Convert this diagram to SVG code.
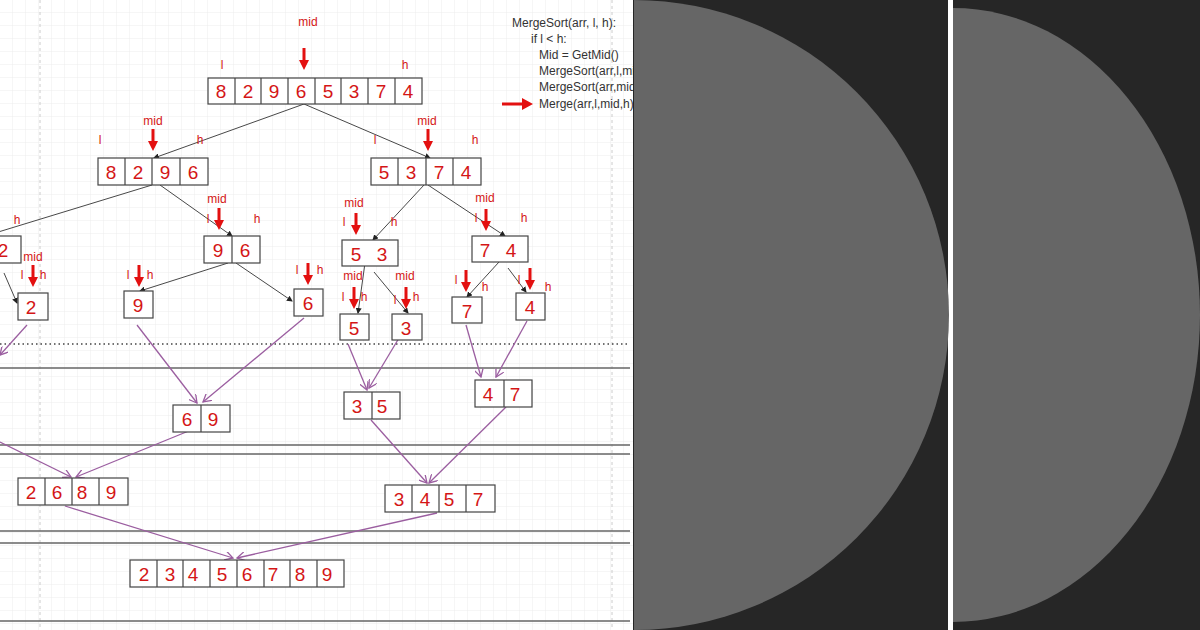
<svg xmlns="http://www.w3.org/2000/svg" width="1200" height="630" viewBox="0 0 1200 630">
<defs>
<pattern id="g" width="13" height="13" patternUnits="userSpaceOnUse"><path d="M13 0V13H0" fill="none" stroke="#ececec" stroke-width="1"/></pattern>
<marker id="ab" markerWidth="6" markerHeight="6" refX="5" refY="3" orient="auto" markerUnits="userSpaceOnUse"><path d="M0,0L6,3L0,6z" fill="#222"/></marker>
<marker id="ap" markerWidth="9" markerHeight="9" refX="8" refY="4.5" orient="auto" markerUnits="userSpaceOnUse"><path d="M0,0L8,4.5L0,9" fill="none" stroke="#9b5ea0" stroke-width="1.3"/></marker>
<path id="ra" d="M-1.5,0V-12H1.5V0H5L0,10L-5,0Z" fill="#e31010"/>
</defs>
<style>
.c{fill:#fff;stroke:#444;stroke-width:1.2}
.d{stroke:#444;stroke-width:1.2}
.n{font-family:"Liberation Sans",Arial,sans-serif;font-size:19px;fill:#d41616;text-anchor:middle}
.s{font-family:"Liberation Sans",Arial,sans-serif;font-size:12px;fill:#d41616;text-anchor:middle}
.k{stroke:#333;stroke-width:0.9;fill:none;marker-end:url(#ab)}
.p{stroke:#9b5ea0;stroke-width:1.3;fill:none;marker-end:url(#ap)}
.sep{stroke:#666;stroke-width:1.5}
.code{font-family:"Liberation Sans",Arial,sans-serif;font-size:12px;fill:#333}
</style>
<rect width="633" height="630" fill="#fff"/>
<rect width="633" height="630" fill="url(#g)"/>
<line x1="40" y1="0" x2="40" y2="630" stroke="#ccc" stroke-dasharray="3,3"/>
<line x1="612" y1="0" x2="612" y2="630" stroke="#ccc" stroke-dasharray="3,3"/>
<g id="separators">
<line x1="0" y1="344" x2="630" y2="344" stroke="#444" stroke-width="1.5" stroke-dasharray="1.5,3"/>
<line class="sep" x1="0" y1="368" x2="630" y2="368"/>
<line class="sep" x1="0" y1="445" x2="630" y2="445"/>
<line class="sep" x1="0" y1="454" x2="630" y2="454"/>
<line class="sep" x1="0" y1="531" x2="630" y2="531"/>
<line class="sep" x1="0" y1="543" x2="630" y2="543"/>
<line class="sep" x1="0" y1="621" x2="630" y2="621"/>
</g>
<g id="code">
<text class="code" x="512" y="27">MergeSort(arr, l, h):</text>
<text class="code" x="531" y="43">if l &lt; h:</text>
<text class="code" x="539" y="59">Mid = GetMid()</text>
<text class="code" x="539" y="75">MergeSort(arr,l,mid)</text>
<text class="code" x="539" y="91">MergeSort(arr,mid+1,h)</text>
<text class="code" x="539" y="108">Merge(arr,l,mid,h)</text>
<path d="M502,102.5H522V98L533,104L522,110V105.5H502Z" fill="#e31010"/>
</g>
<g id="connectors">
<line class="k" x1="304" y1="104" x2="154" y2="158"/>
<line class="k" x1="304" y1="104" x2="430" y2="158"/>
<line class="k" x1="152" y1="185" x2="-5" y2="233"/>
<line class="k" x1="160" y1="185" x2="232" y2="236"/>
<line class="k" x1="4" y1="273" x2="17" y2="303"/>
<line class="k" x1="228" y1="263" x2="140" y2="291"/>
<line class="k" x1="236" y1="263" x2="292" y2="301"/>
<line class="k" x1="424" y1="185" x2="373" y2="240"/>
<line class="k" x1="428" y1="185" x2="505" y2="236"/>
<line class="k" x1="365" y1="263" x2="358" y2="313"/>
<line class="k" x1="374" y1="272" x2="408" y2="313"/>
<line class="k" x1="499" y1="262" x2="467" y2="297"/>
<line class="k" x1="508" y1="268" x2="526" y2="292"/>
<line class="p" x1="27" y1="325" x2="0" y2="355"/>
<line class="p" x1="137" y1="325" x2="197" y2="403"/>
<line class="p" x1="304" y1="318" x2="203" y2="402"/>
<line class="p" x1="348" y1="344" x2="367" y2="390"/>
<line class="p" x1="399" y1="338" x2="369" y2="388"/>
<line class="p" x1="466" y1="325" x2="481" y2="377"/>
<line class="p" x1="527" y1="321" x2="496" y2="377"/>
<line class="p" x1="0" y1="442" x2="71" y2="477"/>
<line class="p" x1="196" y1="428" x2="76" y2="477"/>
<line class="p" x1="371" y1="420" x2="427" y2="483"/>
<line class="p" x1="506" y1="407" x2="429" y2="483"/>
<line class="p" x1="65" y1="506" x2="233" y2="558"/>
<line class="p" x1="437" y1="513" x2="237" y2="558"/>
</g>
<g id="n-top">
<text class="s" x="308" y="26">mid</text><use href="#ra" x="304" y="60"/>
<text class="s" x="222" y="69">l</text><text class="s" x="405" y="69">h</text>
<rect class="c" x="208" y="78" width="214" height="26"/>
<path class="d" d="M235,78v26M261,78v26M288,78v26M315,78v26M341,78v26M368,78v26M395,78v26"/>
<text class="n" x="221" y="98">8</text><text class="n" x="248" y="98">2</text><text class="n" x="274" y="98">9</text><text class="n" x="301" y="98">6</text><text class="n" x="328" y="98">5</text><text class="n" x="354" y="98">3</text><text class="n" x="381" y="98">7</text><text class="n" x="408" y="98">4</text>
</g>
<g id="n-8296">
<text class="s" x="153" y="125">mid</text><use href="#ra" x="153" y="141"/>
<text class="s" x="100" y="144">l</text><text class="s" x="200" y="144">h</text>
<rect class="c" x="98" y="158" width="110" height="27"/>
<path class="d" d="M125,158v27M152,158v27M180,158v27"/>
<text class="n" x="111" y="179">8</text><text class="n" x="138" y="179">2</text><text class="n" x="165" y="179">9</text><text class="n" x="193" y="179">6</text>
</g>
<g id="n-5374">
<text class="s" x="427" y="125">mid</text><use href="#ra" x="428" y="141"/>
<text class="s" x="375" y="144">l</text><text class="s" x="475" y="144">h</text>
<rect class="c" x="371" y="158" width="110" height="27"/>
<path class="d" d="M398,158v27M426,158v27M453,158v27"/>
<text class="n" x="384" y="179">5</text><text class="n" x="411" y="179">3</text><text class="n" x="439" y="179">7</text><text class="n" x="466" y="179">4</text>
</g>
<g id="n-82">
<text class="s" x="17" y="224">h</text>
<rect class="c" x="-10" y="236" width="31" height="27"/>
<text class="n" x="3" y="257">2</text>
</g>
<g id="n-2">
<text class="s" x="33" y="261">mid</text><use href="#ra" x="33" y="277"/>
<text class="s" x="22" y="279">l</text><text class="s" x="43" y="279">h</text>
<rect class="c" x="18" y="293" width="30" height="27"/><text class="n" x="31" y="314">2</text>
</g>
<g id="n-96">
<text class="s" x="217" y="203">mid</text><use href="#ra" x="219" y="220"/>
<text class="s" x="208" y="223">l</text><text class="s" x="257" y="223">h</text>
<rect class="c" x="204" y="236" width="56" height="27"/><path class="d" d="M232,236v27"/>
<text class="n" x="218" y="257">9</text><text class="n" x="245" y="257">6</text>
</g>
<g id="n-9">
<text class="s" x="128" y="279">l</text><use href="#ra" x="139" y="277"/><text class="s" x="150" y="279">h</text>
<rect class="c" x="124" y="291" width="29" height="27"/><text class="n" x="138" y="312">9</text>
</g>
<g id="n-6">
<text class="s" x="297" y="274">l</text><use href="#ra" x="308" y="275"/><text class="s" x="320" y="274">h</text>
<rect class="c" x="294" y="289" width="29" height="27"/><text class="n" x="308" y="310">6</text>
</g>
<g id="n-53">
<text class="s" x="354" y="207">mid</text><use href="#ra" x="356" y="225"/>
<text class="s" x="344" y="226">l</text><text class="s" x="394" y="226">h</text>
<rect class="c" x="342" y="240" width="56" height="26"/>
<text class="n" x="356" y="261">5</text><text class="n" x="382" y="261">3</text>
</g>
<g id="n-74">
<text class="s" x="485" y="202">mid</text><use href="#ra" x="486" y="221"/>
<text class="s" x="476" y="222">l</text><text class="s" x="524" y="222">h</text>
<rect class="c" x="472" y="236" width="56" height="26"/>
<text class="n" x="485" y="257">7</text><text class="n" x="511" y="257">4</text>
</g>
<g id="n-5">
<text class="s" x="353" y="280">mid</text><use href="#ra" x="354" y="299"/>
<text class="s" x="343" y="301">l</text><text class="s" x="364" y="301">h</text>
<rect class="c" x="340" y="314" width="29" height="26"/><text class="n" x="354" y="335">5</text>
</g>
<g id="n-3">
<text class="s" x="405" y="280">mid</text><use href="#ra" x="406" y="299"/>
<text class="s" x="395" y="304">l</text><text class="s" x="416" y="301">h</text>
<rect class="c" x="392" y="314" width="30" height="26"/><text class="n" x="406" y="335">3</text>
</g>
<g id="n-7">
<text class="s" x="456" y="284">l</text><use href="#ra" x="466" y="282"/><text class="s" x="485" y="291">h</text>
<rect class="c" x="452" y="297" width="30" height="26"/><text class="n" x="467" y="318">7</text>
</g>
<g id="n-4">
<text class="s" x="519" y="284">l</text><use href="#ra" x="530" y="280"/><text class="s" x="548" y="291">h</text>
<rect class="c" x="516" y="293" width="29" height="27"/><text class="n" x="530" y="314">4</text>
</g>
<g id="n-69">
<rect class="c" x="173" y="405" width="57" height="27"/><path class="d" d="M201,405v27"/>
<text class="n" x="187" y="426">6</text><text class="n" x="213" y="426">9</text>
</g>
<g id="n-35">
<rect class="c" x="344" y="392" width="56" height="27"/><path class="d" d="M372,392v27"/>
<text class="n" x="357" y="413">3</text><text class="n" x="382" y="413">5</text>
</g>
<g id="n-47">
<rect class="c" x="475" y="380" width="57" height="27"/><path class="d" d="M504,380v27"/>
<text class="n" x="488" y="401">4</text><text class="n" x="515" y="401">7</text>
</g>
<g id="n-2689">
<rect class="c" x="18" y="478" width="110" height="27"/><path class="d" d="M45,478v27M72,478v27M99,478v27"/>
<text class="n" x="31" y="499">2</text><text class="n" x="57" y="499">6</text><text class="n" x="82" y="499">8</text><text class="n" x="111" y="499">9</text>
</g>
<g id="n-3457">
<rect class="c" x="385" y="485" width="110" height="27"/><path class="d" d="M412,485v27M439,485v27M466,485v27"/>
<text class="n" x="399" y="506">3</text><text class="n" x="425" y="506">4</text><text class="n" x="449" y="506">5</text><text class="n" x="478" y="506">7</text>
</g>
<g id="n-final">
<rect class="c" x="130" y="560" width="214" height="27"/>
<path class="d" d="M157,560v27M183,560v27M210,560v27M237,560v27M264,560v27M290,560v27M317,560v27"/>
<text class="n" x="144" y="581">2</text><text class="n" x="170" y="581">3</text><text class="n" x="193" y="581">4</text><text class="n" x="222" y="581">5</text><text class="n" x="247" y="581">6</text><text class="n" x="273" y="581">7</text><text class="n" x="300" y="581">8</text><text class="n" x="327" y="581">9</text>
</g>
<g id="panels">
<rect x="633" y="0" width="567" height="630" fill="#262626"/>
<rect x="948" y="0" width="5" height="630" fill="#fff"/>
<path d="M634,0A315,315 0 0 1 634,630Z" fill="#666"/>
<path d="M953,8A247,307 0 0 1 953,622Z" fill="#666"/>
</g>
</svg>
